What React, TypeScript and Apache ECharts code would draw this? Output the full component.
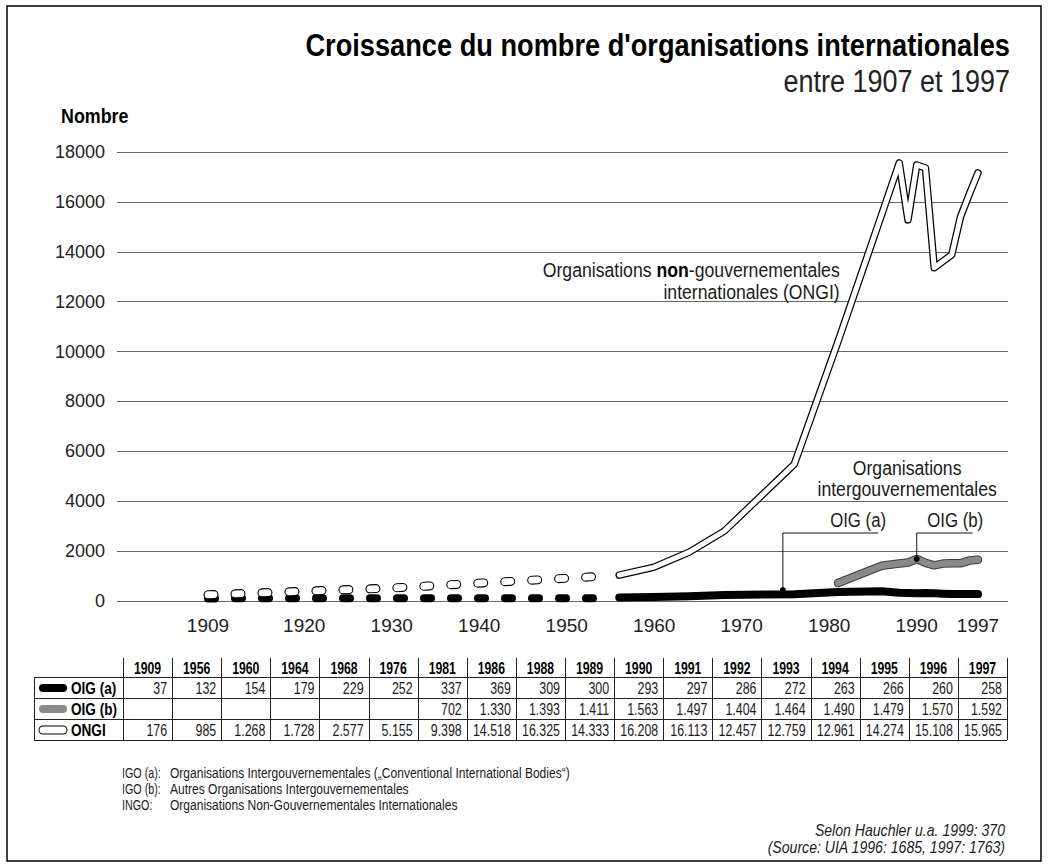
import React, { useEffect, useRef } from 'react';
import * as echarts from 'echarts';

const FONT = "'Liberation Sans', Arial, Helvetica, sans-serif";

// ---- axis ticks ----
const xLabelYears = [1909, 1920, 1930, 1940, 1950, 1960, 1970, 1980, 1990, 1997];

// ---- plotted values ----
const earlyYears = [1909, 1930, 1955];
const oigAEarly = [105, 110, 115];
const ongiEarly = [250, 520, 1010];

const solidYears = [1956, 1960, 1964, 1968, 1976, 1981, 1986, 1988, 1989, 1990, 1991, 1992, 1993, 1994, 1995, 1996, 1997];
const oigAPlot = [140, 165, 190, 245, 270, 360, 395, 330, 320, 315, 318, 306, 291, 281, 285, 278, 276];
const ongiPlot = [1040, 1360, 1960, 2800, 5480, 10400, 15500, 17560, 15280, 17480, 17360, 13360, 13620, 13880, 15400, 16300, 17160];

const oigBYears = [1981, 1986, 1988, 1989, 1990, 1991, 1992, 1993, 1994, 1995, 1996, 1997];
const oigBPlot = [720, 1415, 1500, 1540, 1684, 1530, 1430, 1500, 1510, 1510, 1620, 1650];

// ---- table values ----
const tableYears = [1909, 1956, 1960, 1964, 1968, 1976, 1981, 1986, 1988, 1989, 1990, 1991, 1992, 1993, 1994, 1995, 1996, 1997];
const oigATable = [37, 132, 154, 179, 229, 252, 337, 369, 309, 300, 293, 297, 286, 272, 263, 266, 260, 258];
const oigBTable = [null, null, null, null, null, null, 702, 1330, 1393, 1411, 1563, 1497, 1404, 1464, 1490, 1479, 1570, 1592];
const ongiTable = [176, 985, 1268, 1728, 2577, 5155, 9398, 14518, 16325, 14333, 16208, 16113, 12457, 12759, 12961, 14274, 15108, 15965];

// ---- callouts and annotation anchors (data coordinates) ----
const calloutA = [[1974.7, 440], [1974.7, 2726], [1985.6, 2726]];
const calloutB = [[1990, 1684], [1990, 2726], [1996.4, 2726]];
const ongiNoteAnchor = [1981.2, 12870];
const oigNoteAnchor = [1988.9, 4950];
const oigALabelAnchor = [1983.3, 3247];
const oigBLabelAnchor = [1994.4, 3247];

const footnotes = [
  ['IGO (a):', 'Organisations Intergouvernementales (\u201EConventional International Bodies\u201C)'],
  ['IGO (b):', 'Autres Organisations Intergouvernementales'],
  ['INGO:', 'Organisations Non-Gouvernementales Internationales'],
];

function fmt(n: number | null): string {
  if (n == null) return '';
  return String(n).replace(/\B(?=(\d{3})+(?!\d))/g, '.');
}
const pairs = (xs: number[], ys: number[]) => xs.map((x, i) => [x, ys[i]]);

function txt(x: number, y: number, text: string, size: number, opts: any = {}) {
  return {
    type: 'text',
    x,
    y,
    scaleX: opts.sx ?? 0.82,
    silent: true,
    style: {
      text,
      fontSize: size,
      fontFamily: FONT,
      fontWeight: opts.weight || 'normal',
      fontStyle: opts.style || 'normal',
      fill: opts.fill || '#1a1a1a',
      align: opts.align || 'left',
      verticalAlign: 'middle',
      lineHeight: opts.lineHeight,
      rich: opts.rich,
    },
  };
}

function buildTable() {
  const T = { left: 34, labelRight: 123, right: 1007, top: 658, headBottom: 677, rowH: 21 };
  const colW = (T.right - T.labelRight) / tableYears.length;
  const bottom = T.headBottom + 3 * T.rowH;
  const els: any[] = [];
  const ln = (x1: number, y1: number, x2: number, y2: number) => ({
    type: 'line', silent: true,
    shape: { x1, y1, x2, y2 },
    style: { stroke: '#222', lineWidth: 1 },
  });
  for (let i = 0; i <= 3; i++) {
    const y = T.headBottom + i * T.rowH + 0.5;
    els.push(ln(T.left, y, T.right, y));
  }
  els.push(ln(T.left + 0.5, T.headBottom, T.left + 0.5, bottom));
  for (let j = 0; j <= tableYears.length; j++) {
    const x = Math.round(T.labelRight + j * colW) + 0.5;
    els.push(ln(x, T.top, x, bottom));
  }
  const headY = (T.top + T.headBottom) / 2 + 1;
  tableYears.forEach((yr, j) => {
    els.push(txt(T.labelRight + (j + 0.5) * colW, headY, String(yr), 17, { align: 'center', weight: 'bold', sx: 0.72, fill: '#000' }));
  });
  const rows = [
    { name: 'OIG (a)', vals: oigATable, kind: 'a' },
    { name: 'OIG (b)', vals: oigBTable, kind: 'b' },
    { name: 'ONGI', vals: ongiTable, kind: 'n' },
  ];
  rows.forEach((r, i) => {
    const cy = T.headBottom + (i + 0.5) * T.rowH + 0.5;
    const sw = { x1: 43, y1: cy, x2: 63, y2: cy };
    if (r.kind === 'a') {
      els.push({ type: 'line', silent: true, shape: sw, style: { stroke: '#000', lineWidth: 8, lineCap: 'round' } });
    } else if (r.kind === 'b') {
      els.push({ type: 'line', silent: true, shape: sw, style: { stroke: '#8a8a8a', lineWidth: 8, lineCap: 'round' } });
    } else {
      els.push({ type: 'line', silent: true, shape: sw, style: { stroke: '#000', lineWidth: 9, lineCap: 'round' } });
      els.push({ type: 'line', silent: true, shape: sw, style: { stroke: '#fff', lineWidth: 7, lineCap: 'round' } });
    }
    els.push(txt(71, cy, r.name, 17, { weight: 'bold', sx: 0.8, fill: '#000' }));
    r.vals.forEach((v: number | null, j: number) => {
      if (v == null) return;
      els.push(txt(T.labelRight + (j + 1) * colW - 5, cy, fmt(v), 17, { align: 'right', sx: 0.73 }));
    });
  });
  return els;
}

export default function App() {
  const ref = useRef<HTMLDivElement>(null);
  useEffect(() => {
    document.body.style.margin = '0';
    const chart = echarts.init(ref.current!, null, { renderer: 'svg' });
    const lineBase = { type: 'line', symbol: 'none', showSymbol: false, silent: true, animation: false };

    const calloutData = (pts: number[][]) =>
      pts.map((p, i) => ({ value: p, symbol: i === 0 ? 'circle' : 'none', symbolSize: i === 0 ? 6 : 0 }));

    const option: any = {
      animation: false,
      backgroundColor: '#fff',
      grid: { left: 117, right: 42, top: 152, bottom: 266, containLabel: false },
      xAxis: {
        type: 'value',
        min: 1898.6,
        max: 2000.43,
        axisLine: { show: false },
        axisTick: { show: false },
        splitLine: { show: false },
        axisLabel: {
          customValues: xLabelYears,
          formatter: (v: number) => String(v),
          fontSize: 19,
          fontFamily: FONT,
          color: '#222',
          margin: 15,
        },
      },
      yAxis: {
        type: 'value',
        min: 0,
        max: 18000,
        interval: 2000,
        axisLine: { show: false },
        axisTick: { show: false },
        axisLabel: {
          formatter: (v: number) => String(v),
          fontSize: 18,
          fontFamily: FONT,
          color: '#222',
          margin: 12,
        },
        splitLine: { lineStyle: { color: '#666', width: 1 } },
      },
      series: [
        { ...lineBase, name: 'OIG (a) early', data: pairs(earlyYears, oigAEarly),
          lineStyle: { color: '#000', width: 8, type: [7, 20], cap: 'round', join: 'round' } },
        { ...lineBase, name: 'ONGI early outline', data: pairs(earlyYears, ongiEarly),
          lineStyle: { color: '#000', width: 9, type: [6, 21], cap: 'round', join: 'round' } },
        { ...lineBase, name: 'ONGI early', data: pairs(earlyYears, ongiEarly),
          lineStyle: { color: '#fff', width: 6.8, type: [6, 21], cap: 'round', join: 'round' } },
        { ...lineBase, name: 'OIG (a)', data: pairs(solidYears, oigAPlot),
          lineStyle: { color: '#000', width: 8, cap: 'round', join: 'round' } },
        { ...lineBase, name: 'OIG (b) outline', data: pairs(oigBYears, oigBPlot),
          lineStyle: { color: '#3a3a3a', width: 8.5, cap: 'round', join: 'round' } },
        { ...lineBase, name: 'OIG (b)', data: pairs(oigBYears, oigBPlot),
          lineStyle: { color: '#8a8a8a', width: 6.5, cap: 'round', join: 'round' } },
        { ...lineBase, name: 'ONGI outline', data: pairs(solidYears, ongiPlot),
          lineStyle: { color: '#000', width: 7.5, cap: 'round', join: 'round' } },
        { ...lineBase, name: 'ONGI', data: pairs(solidYears, ongiPlot),
          lineStyle: { color: '#fff', width: 5, cap: 'round', join: 'round' } },
        { type: 'line', silent: true, data: calloutData(calloutA), showSymbol: true,
          itemStyle: { color: '#000' }, lineStyle: { color: '#111', width: 1 } },
        { type: 'line', silent: true, data: calloutData(calloutB), showSymbol: true,
          itemStyle: { color: '#000' }, lineStyle: { color: '#111', width: 1 } },
      ],
    };
    chart.setOption(option);

    const px = (p: number[]) => chart.convertToPixel({ xAxisIndex: 0, yAxisIndex: 0 }, p) as number[];
    const richR = { fontSize: 21, fontFamily: FONT, fill: '#1a1a1a', lineHeight: 22 };
    const richB = { fontSize: 21, fontFamily: FONT, fontWeight: 'bold', fill: '#000', lineHeight: 22 };
    const pOngi = px(ongiNoteAnchor);
    const pOig = px(oigNoteAnchor);
    const pA = px(oigALabelAnchor);
    const pB = px(oigBLabelAnchor);

    const graphic: any[] = [
      { type: 'rect', silent: true, shape: { x: 7, y: 6, width: 1034, height: 855 },
        style: { fill: 'none', stroke: '#000', lineWidth: 1.5 } },
      txt(1010, 45, "Croissance du nombre d'organisations internationales", 32, { align: 'right', weight: 'bold', fill: '#000', sx: 0.85 }),
      txt(1010, 81, 'entre 1907 et 1997', 31, { align: 'right', fill: '#222', sx: 0.87 }),
      txt(61, 115, 'Nombre', 21, { weight: 'bold', fill: '#000', sx: 0.85 }),
      txt(pOngi[0], pOngi[1], '{r|Organisations }{b|non}{r|-gouvernementales}\n{r|internationales (ONGI)}', 21,
        { align: 'right', sx: 0.84, lineHeight: 22, rich: { r: richR, b: richB } }),
      txt(pOig[0], pOig[1], 'Organisations\nintergouvernementales', 21, { align: 'center', sx: 0.84, lineHeight: 21 }),
      txt(pA[0], pA[1], 'OIG (a)', 21, { align: 'center', sx: 0.8 }),
      txt(pB[0], pB[1], 'OIG (b)', 21, { align: 'center', sx: 0.8 }),
      ...buildTable(),
      ...footnotes.flatMap((f, i) => [
        txt(122, 773 + i * 16, f[0], 14.5, { sx: 0.74 }),
        txt(170, 773 + i * 16, f[1], 14.5, { sx: 0.83 }),
      ]),
      txt(1005, 830, 'Selon Hauchler u.a. 1999: 370', 16, { align: 'right', style: 'italic', sx: 0.88 }),
      txt(1005, 847, '(Source: UIA 1996: 1685, 1997: 1763)', 16, { align: 'right', style: 'italic', sx: 0.88 }),
    ];
    chart.setOption({ graphic });
    return () => chart.dispose();
  }, []);
  return <div ref={ref} style={{ width: 1050, height: 867, background: '#fff' }} />;
}
